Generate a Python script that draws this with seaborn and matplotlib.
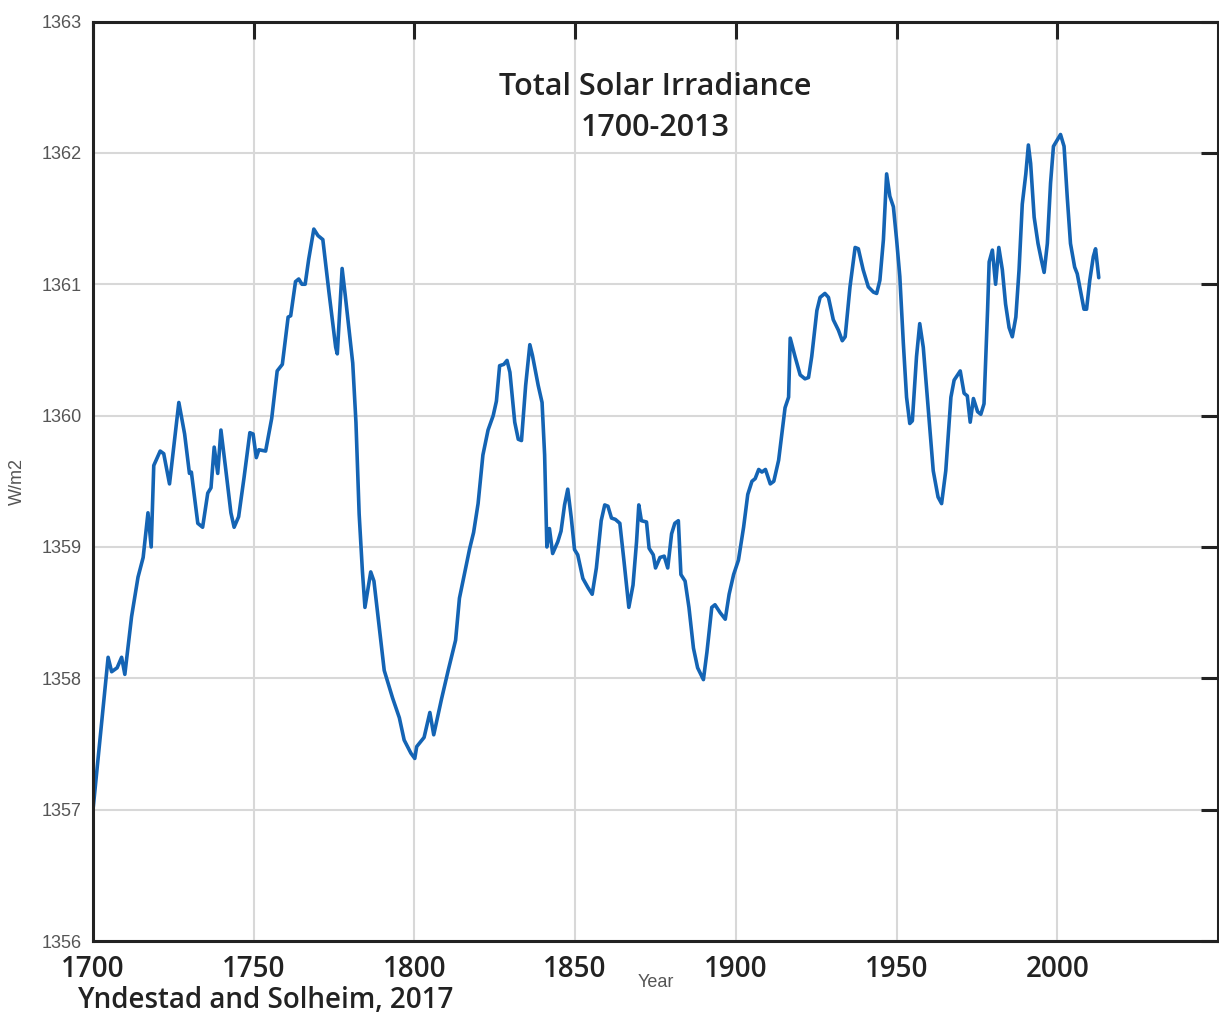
import pandas as pd
import matplotlib
matplotlib.use("Agg")
import matplotlib.pyplot as plt
import seaborn as sns

# values (year, W/m2)
years = [
    1700.0, 1704.7, 1705.8, 1707.5, 1708.9, 1709.9, 1712.0, 1714.0, 1715.6, 1717.1,
    1718.1, 1718.9, 1720.9, 1722.0, 1723.8, 1726.7, 1728.5, 1730.0, 1730.6, 1732.6,
    1734.1, 1735.7, 1736.7, 1737.7, 1738.8, 1739.8, 1741.3, 1742.9, 1743.9, 1745.3,
    1747.0, 1748.8, 1749.8, 1750.8, 1751.6, 1753.7, 1755.6, 1757.3, 1758.9, 1760.7,
    1761.5, 1763.0, 1764.0, 1765.0, 1766.0, 1767.1, 1768.7, 1770.0, 1771.5, 1773.4,
    1775.5, 1776.0, 1777.5, 1778.5, 1780.8, 1781.8, 1782.8, 1783.8, 1784.6, 1786.4,
    1787.4, 1789.0, 1790.6, 1791.6, 1793.2, 1795.3, 1796.8, 1798.9, 1800.1, 1800.7,
    1803.0, 1804.8, 1806.0, 1808.4, 1810.5, 1812.8, 1814.0, 1815.6, 1817.2, 1818.4,
    1819.8, 1821.3, 1822.9, 1824.5, 1825.5, 1826.5, 1827.8, 1828.8, 1829.7, 1831.2,
    1832.3, 1833.3, 1834.6, 1835.9, 1836.7, 1838.5, 1839.7, 1840.5, 1841.2, 1842.0,
    1843.0, 1844.6, 1845.6, 1846.7, 1847.7, 1848.8, 1849.8, 1850.8, 1852.4, 1854.0,
    1855.3, 1856.6, 1858.1, 1859.2, 1860.2, 1861.3, 1862.5, 1863.9, 1865.2, 1866.7,
    1868.0, 1869.1, 1869.8, 1870.6, 1872.2, 1873.0, 1874.3, 1875.0, 1876.4, 1877.7,
    1878.8, 1880.0, 1881.0, 1882.1, 1882.9, 1884.2, 1885.4, 1886.8, 1888.1, 1889.9,
    1891.0, 1892.5, 1893.5, 1895.1, 1896.7, 1897.9, 1899.3, 1900.8, 1902.4, 1903.7,
    1905.0, 1906.0, 1907.1, 1908.1, 1909.2, 1910.7, 1911.8, 1913.3, 1915.3, 1916.4,
    1916.9, 1918.4, 1920.0, 1921.5, 1922.6, 1923.6, 1925.2, 1926.2, 1927.7, 1928.8,
    1930.3, 1931.9, 1933.1, 1934.0, 1935.5, 1937.1, 1938.1, 1939.6, 1941.2, 1942.8,
    1943.8, 1944.8, 1945.9, 1946.9, 1947.9, 1949.0, 1950.0, 1951.0, 1952.1, 1953.1,
    1954.1, 1954.9, 1956.2, 1957.2, 1958.3, 1959.8, 1961.4, 1962.9, 1964.0, 1965.3,
    1966.9, 1967.9, 1969.8, 1971.0, 1972.0, 1972.9, 1973.9, 1975.2, 1976.2, 1977.2,
    1978.3, 1978.8, 1979.8, 1980.8, 1981.8, 1982.9, 1983.9, 1985.0, 1986.0, 1987.1,
    1988.1, 1989.1, 1990.2, 1991.0, 1991.7, 1992.8, 1994.0, 1995.0, 1995.9, 1996.9,
    1997.9, 1998.8, 2000.0, 2001.0, 2002.1, 2003.1, 2004.1, 2005.4, 2006.2, 2007.2,
    2008.3, 2009.1, 2010.1, 2011.2, 2011.9, 2012.9,
]
tsi = [
    1357.00, 1358.16, 1358.05, 1358.08, 1358.16, 1358.03, 1358.47, 1358.77, 1358.92, 1359.26,
    1359.00, 1359.62, 1359.73, 1359.71, 1359.48, 1360.10, 1359.86, 1359.56, 1359.57, 1359.18,
    1359.15, 1359.41, 1359.45, 1359.76, 1359.56, 1359.89, 1359.59, 1359.26, 1359.15, 1359.23,
    1359.53, 1359.87, 1359.86, 1359.68, 1359.74, 1359.73, 1359.98, 1360.34, 1360.39, 1360.75,
    1360.76, 1361.02, 1361.04, 1361.00, 1361.00, 1361.19, 1361.42, 1361.37, 1361.34, 1360.94,
    1360.52, 1360.47, 1361.12, 1360.91, 1360.40, 1359.95, 1359.25, 1358.82, 1358.54, 1358.81,
    1358.74, 1358.40, 1358.06, 1357.98, 1357.85, 1357.70, 1357.53, 1357.43, 1357.39, 1357.48,
    1357.55, 1357.74, 1357.57, 1357.84, 1358.06, 1358.29, 1358.61, 1358.80, 1358.99, 1359.11,
    1359.33, 1359.70, 1359.89, 1360.00, 1360.11, 1360.38, 1360.39, 1360.42, 1360.33, 1359.95,
    1359.82, 1359.81, 1360.23, 1360.54, 1360.46, 1360.23, 1360.10, 1359.70, 1359.00, 1359.14,
    1358.95, 1359.04, 1359.12, 1359.32, 1359.44, 1359.22, 1358.98, 1358.94, 1358.76, 1358.69,
    1358.64, 1358.84, 1359.20, 1359.32, 1359.31, 1359.22, 1359.21, 1359.18, 1358.89, 1358.54,
    1358.71, 1359.04, 1359.32, 1359.20, 1359.19, 1358.99, 1358.94, 1358.84, 1358.92, 1358.93,
    1358.84, 1359.10, 1359.18, 1359.20, 1358.79, 1358.74, 1358.54, 1358.23, 1358.08, 1357.99,
    1358.20, 1358.54, 1358.56, 1358.50, 1358.45, 1358.64, 1358.79, 1358.90, 1359.15, 1359.40,
    1359.50, 1359.52, 1359.59, 1359.57, 1359.59, 1359.48, 1359.50, 1359.66, 1360.06, 1360.14,
    1360.59, 1360.45, 1360.31, 1360.28, 1360.29, 1360.45, 1360.80, 1360.90, 1360.93, 1360.90,
    1360.73, 1360.65, 1360.57, 1360.60, 1360.98, 1361.28, 1361.27, 1361.11, 1360.98, 1360.94,
    1360.93, 1361.03, 1361.34, 1361.84, 1361.67, 1361.59, 1361.34, 1361.06, 1360.55, 1360.14,
    1359.94, 1359.96, 1360.45, 1360.70, 1360.52, 1360.07, 1359.58, 1359.38, 1359.33, 1359.58,
    1360.14, 1360.27, 1360.34, 1360.17, 1360.15, 1359.95, 1360.13, 1360.03, 1360.01, 1360.09,
    1360.80, 1361.17, 1361.26, 1361.00, 1361.28, 1361.11, 1360.85, 1360.67, 1360.60, 1360.75,
    1361.11, 1361.61, 1361.84, 1362.06, 1361.92, 1361.51, 1361.31, 1361.19, 1361.09, 1361.31,
    1361.77, 1362.05, 1362.10, 1362.14, 1362.05, 1361.66, 1361.31, 1361.13, 1361.08, 1360.95,
    1360.81, 1360.81, 1361.03, 1361.21, 1361.27, 1361.05,
]

x_ticks = [1700, 1750, 1800, 1850, 1900, 1950, 2000]
y_ticks = [1356, 1357, 1358, 1359, 1360, 1361, 1362, 1363]

df = pd.DataFrame({"Year": years, "TSI": tsi})

sns.set_style("white")
plt.rcParams["font.family"] = ["Liberation Sans", "DejaVu Sans"]

fig = plt.figure(figsize=(12.19, 10.16), dpi=100)
ax = fig.add_axes([0.0763, 0.0738, 0.9229, 0.905])

sns.lineplot(data=df, x="Year", y="TSI", ax=ax, color="#1464b4",
             linewidth=2.6, estimator=None, sort=False)

ax.set_xlim(1700, 2050)
ax.set_ylim(1356, 1363)
ax.set_xticks(x_ticks)
ax.set_yticks(y_ticks)
ax.set_xticklabels([str(t) for t in x_ticks], fontsize=20, family="Open Sans",
                   fontweight="semibold", color="#222222")
ax.set_yticklabels([str(t) for t in y_ticks], fontsize=13, color="#555555")

ax.grid(True, color="#d8d8d8", linewidth=1.5)
ax.set_axisbelow(True)
for side in ["top", "bottom", "left", "right"]:
    ax.spines[side].set_visible(True)
    ax.spines[side].set_color("#222222")
    ax.spines[side].set_linewidth(2.2)

ax.tick_params(axis="both", which="major", direction="in", length=12, width=2.2,
               color="#222222", top=True, right=True)
ax.tick_params(axis="x", pad=10)
ax.tick_params(axis="y", pad=8)

ax.set_xlabel("Year", fontsize=13, color="#555555")
ax.xaxis.set_label_coords(0.5, -0.036)
ax.set_ylabel("W/m2", fontsize=13, color="#555555")
ax.yaxis.set_label_coords(-0.06, 0.5)

ax.text(0.5, 0.929, "Total Solar Irradiance", transform=ax.transAxes,
        ha="center", va="center", fontsize=22, family="Open Sans",
        fontweight="semibold", color="#222222")
ax.text(0.5, 0.884, "1700-2013", transform=ax.transAxes,
        ha="center", va="center", fontsize=22, family="Open Sans",
        fontweight="semibold", color="#222222")

fig.text(78 / 1219, 1 - 1001 / 1016, "Yndestad and Solheim, 2017", ha="left",
         va="center", fontsize=20, family="Open Sans", fontweight="semibold",
         color="#222222")

fig.savefig("out.png", dpi=100)
